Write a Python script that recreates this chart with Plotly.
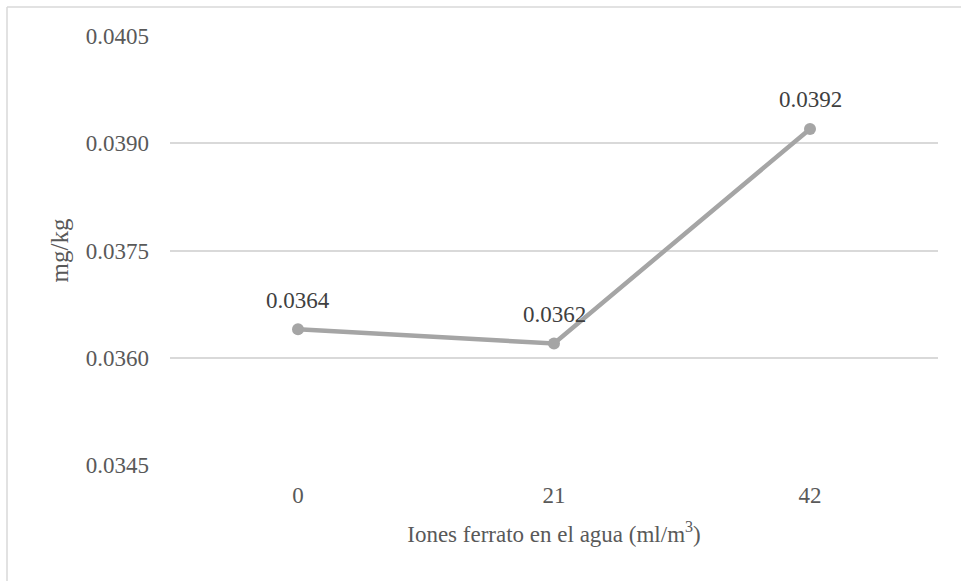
import plotly.graph_objects as go

# Ferrate dose in the water (ml/m3) and measured concentration (mg/kg)
doses = ["0", "21", "42"]
values = [0.0364, 0.0362, 0.0392]
y_ticks = [0.0345, 0.0360, 0.0375, 0.0390, 0.0405]

FONT = "Liberation Serif"

fig = go.Figure(
    go.Scatter(
        x=doses,
        y=values,
        mode="lines+markers",
        line=dict(color="#A5A5A5", width=4.5),
        marker=dict(color="#A5A5A5", size=12),
        cliponaxis=False,
        hoverinfo="skip",
    )
)

# value labels above each point (category axis -> position by index)
for i, v in enumerate(values):
    fig.add_annotation(
        x=i, y=v, xref="x", yref="y", text=f"{v:.4f}", showarrow=False,
        yshift=29, font=dict(family=FONT, size=23, color="#404040"),
    )

fig.update_layout(
    width=961,
    height=581,
    margin=dict(l=170, r=23, t=36, b=116),
    paper_bgcolor="white",
    plot_bgcolor="white",
    showlegend=False,
    font=dict(family=FONT, color="#595959"),
    xaxis=dict(
        type="category",
        range=[-0.5, 2.5],
        showgrid=False,
        zeroline=False,
        showline=False,
        ticks="",
        tickfont=dict(family=FONT, size=23, color="#595959"),
        ticklabelstandoff=14,
        title=dict(
            text="Iones ferrato en el agua (ml/m<sup>3</sup>)",
            font=dict(family=FONT, size=23, color="#595959"),
            standoff=18,
        ),
    ),
    yaxis=dict(
        range=[0.0345, 0.0405],
        tickvals=y_ticks,
        tickformat=".4f",
        showgrid=True,
        gridcolor="#D9D9D9",
        gridwidth=1.5,
        zeroline=False,
        showline=False,
        ticks="",
        tickfont=dict(family=FONT, size=23, color="#595959"),
        ticklabelstandoff=20,
        title=dict(
            text="mg/kg",
            font=dict(family=FONT, size=25, color="#595959"),
            standoff=10,
        ),
    ),
    shapes=[
        # outer chart frame (top and left edges)
        dict(type="line", xref="paper", yref="paper",
             x0=(7 - 170) / 768, x1=(961 - 170) / 768 + 0.01,
             y0=1 + (36 - 7) / 429, y1=1 + (36 - 7) / 429,
             line=dict(color="#D9D9D9", width=1.5)),
        dict(type="line", xref="paper", yref="paper",
             x0=(7 - 170) / 768, x1=(7 - 170) / 768,
             y0=1 + (36 - 7) / 429, y1=-0.3,
             line=dict(color="#D9D9D9", width=1.5)),
    ],
)

fig.write_html("out.html")
